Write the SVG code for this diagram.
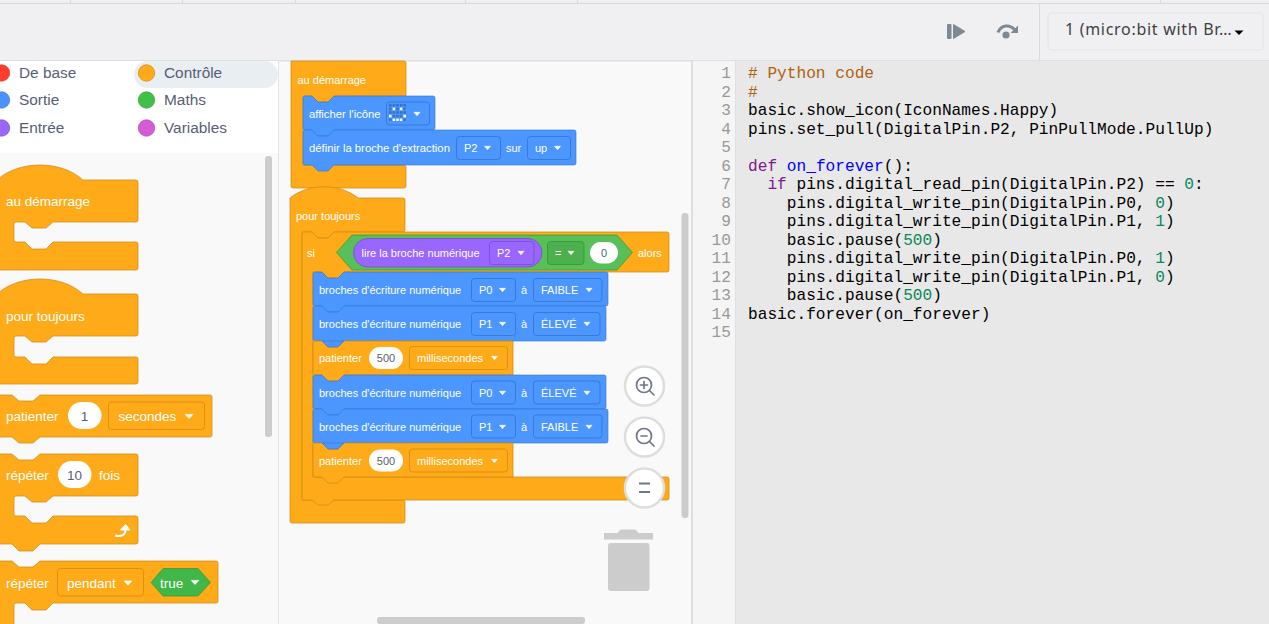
<svg xmlns="http://www.w3.org/2000/svg" width="1269" height="624" viewBox="0 0 1269 624">
<style>
text{font-family:"Liberation Sans",Arial,sans-serif}
.o{fill:#ffab19;stroke:#cf8b17;stroke-width:1;stroke-opacity:.75}
.b{fill:#4c97ff;stroke:#3373cc;stroke-width:1;stroke-opacity:.6}
.do{fill:#ffab19;stroke:#cf8b17;stroke-width:1;stroke-opacity:.8}
.db{fill:#4c97ff;stroke:#3373cc;stroke-width:1;stroke-opacity:.8}
.dg{fill:#4cb04c;stroke:#389438;stroke-width:1;stroke-opacity:.8}
.dp{fill:#9966ff;stroke:#774dcb;stroke-width:1;stroke-opacity:.8}
.t{fill:#fff;font-size:11px}
.tl{fill:#fff;font-size:11.3px}
.f{fill:#fff;font-size:13.5px}
.n{fill:#575e75;font-size:11px;text-anchor:middle}
.nf{fill:#575e75;font-size:13.5px;text-anchor:middle}
.cat{fill:#575e75;font-size:15.4px}
.code{font-family:"Liberation Mono",monospace;font-size:16.17px;fill:#000}
.ln{font-family:"Liberation Mono",monospace;font-size:16.17px;fill:#999;text-anchor:end}
.num{fill:#09885a}.kw{fill:#7f1a8f}.fn{fill:#0000ff}.cm{fill:#b0620f}
.btn{fill:#fff;stroke:#ddd;stroke-width:2.5}
.ic{fill:none;stroke:#6f7590;stroke-width:1.7;stroke-linecap:round}
.c{fill:#fff;stroke:#fff;stroke-width:.6;stroke-linejoin:round}
.sb{fill:#ccc}
</style>
<defs>
<path id="car" d="M-3-1.700H3L0 1.700Z"/>
<path id="carf" d="M-3.800-2.100H3.800L0 2.100Z"/>
<pattern id="led" width="3.600" height="3.600" patternUnits="userSpaceOnUse" x="389" y="104"><rect width="2.600" height="2.600" fill="#3373cc"/></pattern>
</defs>

<rect id="page" width="1269" height="624" fill="#f9f9f9"/>

<g id="topbar">
<rect width="1269" height="61" fill="#f0f0f3"/>
<rect y="3" width="1269" height="1" fill="#d9d9dc"/>
<path d="M70.500 0V3M182.500 0V3M295.500 0V3M465.500 0V3M577.500 0V3M1160.500 0V3M1039.500 4V61" stroke="#d9d9dc" fill="none"/>
<rect y="60" width="1269" height="1.500" fill="#dfdfe2"/>
</g>

<g id="toolbar-controls">
<rect x="947" y="24" width="4.500" height="15" rx="1" fill="#7d8a96"/>
<path d="M953.500 24.500L965 31.500L953.500 38.500Z" fill="#7d8a96" stroke="#7d8a96" stroke-linejoin="round"/>
<path d="M998 32.500C1001 24.500 1010 24 1015 30" fill="none" stroke="#7d8a96" stroke-width="3"/>
<path d="M1018 25.500V33H1010.500Z" fill="#7d8a96"/>
<circle cx="1006" cy="35" r="3.600" fill="#7d8a96"/>
</g>

<g id="device-select">
<rect x="1048" y="13" width="215" height="37" rx="3" fill="#f0f0f3" stroke="#e4e4e8"/>
<text x="1065" y="34.500" font-size="16" letter-spacing=".7" fill="#3f4045" style="font-family:'Noto Sans',sans-serif">1 (micro:bit with Br…</text>
<path d="M1234.500 30.500H1243.500L1239 35Z" fill="#000"/>
</g>

<g id="categories">
<rect y="61" width="278" height="92" fill="#fff"/>
<rect x="278" y="61" width="1" height="563" fill="#e3e3e3"/>
<rect x="134" y="61" width="144" height="27" rx="13.500" fill="#e9eef2"/>
<g id="cat-base"><circle cx="1.500" cy="73" r="8.200" fill="#ff3d2e" stroke="#e0402f" stroke-width=".8"/><text class="cat" x="19" y="78">De base</text></g>
<g id="cat-sortie"><circle cx="1.500" cy="100" r="8.200" fill="#4b92ff" stroke="#3f82e6" stroke-width=".8"/><text class="cat" x="19" y="105">Sortie</text></g>
<g id="cat-entree"><circle cx="1.500" cy="128" r="8.200" fill="#9966ff" stroke="#8455e0" stroke-width=".8"/><text class="cat" x="19" y="133">Entrée</text></g>
<g id="cat-controle"><circle cx="146.500" cy="73" r="8.200" fill="#ffab19" stroke="#d98f14" stroke-width=".8"/><text class="cat" x="164" y="78">Contrôle</text></g>
<g id="cat-maths"><circle cx="146.500" cy="100" r="8.200" fill="#40bf4a" stroke="#38a842" stroke-width=".8"/><text class="cat" x="164" y="105">Maths</text></g>
<g id="cat-variables"><circle cx="146.500" cy="128" r="8.200" fill="#d65cd6" stroke="#bd50bd" stroke-width=".8"/><text class="cat" x="164" y="133">Variables</text></g>
</g>

<g id="flyout">
<g id="fly-start">
<path class="o" d="M-3 180C19 160 61 160 83 180H136q2 0 2 2V220q0 2-2 2H53l-7 6H32l-7-6H16q-2 0-2 2V240q0 2 2 2H25l7 7H46l7-7H136q2 0 2 2V268q0 2-2 2H-5Z"/>
<text class="f" x="6" y="206">au démarrage</text>
</g>
<g id="fly-forever">
<path class="o" d="M-3 294C19 274 61 274 83 294H136q2 0 2 2V334q0 2-2 2H53l-7 6H32l-7-6H16q-2 0-2 2V355q0 2 2 2H25l7 7H46l7-7H136q2 0 2 2V382q0 2-2 2H-5Z"/>
<text class="f" x="6" y="321">pour toujours</text>
</g>
<g id="fly-pause">
<path class="o" d="M-5 395H12l7 6H33l7-6H210q2 0 2 2V435q0 2-2 2H40l-7 6H19l-7-6H-5Z"/>
<text class="f" x="6" y="421">patienter</text>
<rect x="68" y="402" width="33.500" height="27" rx="13.500" fill="#fff"/>
<text class="nf" x="84.500" y="421">1</text>
<rect class="do" x="108.500" y="402" width="96" height="27.500" rx="3"/>
<text class="f" x="118.500" y="421">secondes</text>
<use href="#carf" x="189" y="416.500" class="c"/>
</g>
<g id="fly-repeat">
<path class="o" d="M-5 454H12l7 6H33l7-6H136q2 0 2 2V494q0 2-2 2H53l-7 6H32l-7-6H16q-2 0-2 2V514q0 2 2 2H25l7 7H46l7-7H136q2 0 2 2V542q0 2-2 2H40l-7 7H19l-7-7H-5Z"/>
<text class="f" x="6" y="480">répéter</text>
<rect x="58" y="461" width="33.500" height="27" rx="13.500" fill="#fff"/>
<text class="nf" x="74.500" y="480">10</text>
<text class="f" x="99" y="480">fois</text>
<path d="M115 535.500C121 537 126 535 125.500 529" fill="none" stroke="#fff" stroke-width="2"/>
<path d="M120.500 530L125.500 524.500L130 530Z" fill="#fff" stroke="#fff" stroke-linejoin="round"/>
</g>
<g id="fly-while">
<path class="o" d="M-5 561H12l7 6H33l7-6H216q2 0 2 2V601q0 2-2 2H53l-7 7H32l-7-7H16q-2 0-2 2V630H-5Z"/>
<text class="f" x="6" y="588">répéter</text>
<rect class="do" x="57.500" y="568.500" width="86" height="27.500" rx="3"/>
<text class="f" x="67" y="588">pendant</text>
<use href="#carf" x="128" y="583" class="c"/>
<path d="M151 582.500L163 568.500H198L210.500 582.500L198 596H163Z" fill="#40b748" stroke="#389438" stroke-opacity=".7"/>
<text class="f" x="160" y="588">true</text>
<use href="#carf" x="195" y="582.500" class="c"/>
</g>
<rect id="fly-scroll" class="sb" x="265" y="156" width="7" height="281" rx="3"/>
</g>

<g id="workspace">
<g id="on-start">
<path class="o" d="M291 61H404q2 0 2 2V96H334l-6 6H318l-6-6H303V165H404q2 0 2 2V186q0 2-2 2H293q-2 0-2-2Z"/>
<text class="t" x="297.500" y="84">au démarrage</text>
<g id="show-icon">
<path class="b" d="M303 98q0-2 2-2h7l6 6h10l6-6H433q2 0 2 2V128q0 2-2 2H334l-6 6H318l-6-6H305q-2 0-2-2Z"/>
<text class="tl" x="309" y="118">afficher l'icône</text>
<rect class="db" x="386.500" y="102" width="43" height="23" rx="3"/>
<rect x="389" y="104" width="18" height="18" fill="url(#led)"/>
<path d="M392.600 107.600h2.600v2.600h-2.600zM399.800 107.600h2.600v2.600h-2.600zM389 114.800h2.600v2.600H389zM403.400 114.800h2.600v2.600h-2.600zM392.600 118.400h2.600v2.600h-2.600zM396.200 118.400h2.600v2.600h-2.600zM399.800 118.400h2.600v2.600h-2.600z" fill="#fff"/>
<use href="#car" x="417" y="114" class="c"/>
</g>
<g id="set-pull">
<path class="b" d="M303 132q0-2 2-2h7l6 6h10l6-6H574q2 0 2 2V163q0 2-2 2H334l-6 6H318l-6-6H305q-2 0-2-2Z"/>
<text class="tl" x="309" y="152">définir la broche d'extraction</text>
<rect class="db" x="456.500" y="136.500" width="44" height="23" rx="3"/>
<text class="t" x="464" y="152">P2</text>
<use href="#car" x="487.500" y="148" class="c"/>
<text class="t" x="506" y="152">sur</text>
<rect class="db" x="527.500" y="136.500" width="43" height="23" rx="3"/>
<text class="t" x="535" y="152">up</text>
<use href="#car" x="557.500" y="148" class="c"/>
</g>
</g>

<g id="forever">
<path class="o" d="M290 198C308 183 340 183 358 198H403q2 0 2 2V230q0 2-2 2H334l-6 6H318l-6-6H302V500H403q2 0 2 2V521q0 2-2 2H292q-2 0-2-2Z"/>
<text class="t" x="296" y="220">pour toujours</text>
<g id="if-block">
<path class="o" d="M302 234q0-2 2-2h8l6 6h10l6-6H667q2 0 2 2V270q0 2-2 2H344l-6 6H328l-6-6H313V477H667q2 0 2 2V498q0 2-2 2H334l-6 5H318l-6-5H304q-2 0-2-2Z"/>
<text class="t" x="307" y="257">si</text>
<path d="M336.500 252.500L352 235H617L632.500 252.500L617 270H352Z" fill="#59c059" stroke="#389438" stroke-opacity=".7"/>
<rect x="353.500" y="238.500" width="188.500" height="28.500" rx="14.250" fill="#9966ff" stroke="#774dcb" stroke-opacity=".8"/>
<text class="t" x="361.500" y="257">lire la broche numérique</text>
<rect class="dp" x="489.500" y="241.500" width="44.500" height="23" rx="3"/>
<text class="t" x="497" y="257">P2</text>
<use href="#car" x="521" y="253" class="c"/>
<rect class="dg" x="547.500" y="241.500" width="36.500" height="23" rx="3"/>
<text class="t" x="555" y="257">=</text>
<use href="#car" x="571" y="253" class="c"/>
<rect x="590" y="242" width="28" height="21.500" rx="10.700" fill="#fff"/>
<text class="n" x="604" y="257">0</text>
<text class="t" x="638" y="257">alors</text>
</g>
<g id="write-p0-low">
<path class="b" d="M313 274q0-2 2-2h7l6 6h10l6-6H606q2 0 2 2V304q0 2-2 2H344l-6 6H328l-6-6H315q-2 0-2-2Z"/>
<text class="t" x="319" y="294">broches d'écriture numérique</text>
<rect class="db" x="471.500" y="278.500" width="44" height="23" rx="3"/>
<text class="t" x="479" y="294">P0</text>
<use href="#car" x="502.500" y="290" class="c"/>
<text class="t" x="521" y="294">à</text>
<rect class="db" x="533.500" y="278.500" width="68.500" height="23" rx="3"/>
<text class="t" x="541" y="294">FAIBLE</text>
<use href="#car" x="589" y="290" class="c"/>
</g>
<g id="write-p1-high">
<path class="b" d="M313 308q0-2 2-2h7l6 6h10l6-6H604q2 0 2 2V339q0 2-2 2H344l-6 6H328l-6-6H315q-2 0-2-2Z"/>
<text class="t" x="319" y="328">broches d'écriture numérique</text>
<rect class="db" x="471.500" y="312.500" width="44" height="23" rx="3"/>
<text class="t" x="479" y="328">P1</text>
<use href="#car" x="502.500" y="324" class="c"/>
<text class="t" x="521" y="328">à</text>
<rect class="db" x="533.500" y="312.500" width="66.500" height="23" rx="3"/>
<text class="t" x="541" y="328">ÉLEVÉ</text>
<use href="#car" x="587" y="324" class="c"/>
</g>
<g id="pause-1">
<path class="o" d="M313 343q0-2 2-2h7l6 6h10l6-6H513V375H344l-6 6H328l-6-6H315q-2 0-2-2Z"/>
<path class="b" d="M322 341l6 6h10l6-6Z" stroke="none"/>
<text class="t" x="319" y="362">patienter</text>
<rect x="369" y="347" width="34" height="22" rx="11" fill="#fff"/>
<text class="n" x="386" y="362">500</text>
<rect class="do" x="409.500" y="346.500" width="98" height="23" rx="3"/>
<text class="t" x="417" y="362">millisecondes</text>
<use href="#car" x="494.500" y="358" class="c"/>
</g>
<g id="write-p0-high">
<path class="b" d="M313 377q0-2 2-2h7l6 6h10l6-6H604q2 0 2 2V407q0 2-2 2H344l-6 6H328l-6-6H315q-2 0-2-2Z"/>
<text class="t" x="319" y="397">broches d'écriture numérique</text>
<rect class="db" x="471.500" y="381" width="44" height="23" rx="3"/>
<text class="t" x="479" y="397">P0</text>
<use href="#car" x="502.500" y="393" class="c"/>
<text class="t" x="521" y="397">à</text>
<rect class="db" x="533.500" y="381" width="66.500" height="23" rx="3"/>
<text class="t" x="541" y="397">ÉLEVÉ</text>
<use href="#car" x="587" y="393" class="c"/>
</g>
<g id="write-p1-low">
<path class="b" d="M313 411q0-2 2-2h7l6 6h10l6-6H606q2 0 2 2V441q0 2-2 2H344l-6 6H328l-6-6H315q-2 0-2-2Z"/>
<text class="t" x="319" y="431">broches d'écriture numérique</text>
<rect class="db" x="471.500" y="415" width="44" height="23" rx="3"/>
<text class="t" x="479" y="431">P1</text>
<use href="#car" x="502.500" y="427" class="c"/>
<text class="t" x="521" y="431">à</text>
<rect class="db" x="533.500" y="415" width="68.500" height="23" rx="3"/>
<text class="t" x="541" y="431">FAIBLE</text>
<use href="#car" x="589" y="427" class="c"/>
</g>
<g id="pause-2">
<path class="o" d="M313 445q0-2 2-2h7l6 6h10l6-6H513V477H344l-6 6H328l-6-6H315q-2 0-2-2Z"/>
<path class="b" d="M322 443l6 6h10l6-6Z" stroke="none"/>
<text class="t" x="319" y="465">patienter</text>
<rect x="369" y="449.500" width="34" height="22" rx="11" fill="#fff"/>
<text class="n" x="386" y="465">500</text>
<rect class="do" x="409.500" y="449" width="98" height="23" rx="3"/>
<text class="t" x="417" y="465">millisecondes</text>
<use href="#car" x="494.500" y="461" class="c"/>
</g>
</g>

<g id="zoom-in">
<circle class="btn" cx="644.500" cy="386" r="19.500"/>
<circle class="ic" cx="644" cy="385" r="7.500"/>
<path class="ic" d="M650 391l4 4M640.500 385h7M644 381.500v7"/>
</g>
<g id="zoom-out">
<circle class="btn" cx="644.500" cy="437" r="19.500"/>
<circle class="ic" cx="644" cy="436" r="7.500"/>
<path class="ic" d="M650 442l4 4M641 436h6"/>
</g>
<g id="zoom-reset">
<circle class="btn" cx="644.500" cy="488" r="19.500"/>
<path d="M639 483.500h11M639 492h11" fill="none" stroke="#6f7590" stroke-width="2.200"/>
</g>
<g id="trash">
<path d="M604 533H618q1-3.500 4-3.500H634q3 0 4 3.500H653V539.500H604Z" fill="#ccc"/>
<rect x="608" y="543" width="41.500" height="48" rx="3" fill="#ccc"/>
</g>
<rect id="ws-vscroll" class="sb" x="681.500" y="213" width="7" height="305" rx="3"/>
<rect id="ws-hscroll" class="sb" x="377" y="617" width="208" height="7" rx="3"/>
</g>

<g id="editor">
<rect x="691" y="61" width="578" height="563" fill="#e8e8e8"/>
<rect x="691" y="61" width="2" height="563" fill="#dedede"/>
<path d="M693 61H733q2 0 2 2V624H693Z" fill="#f5f5f5"/>
<rect x="735" y="61" width="1" height="563" fill="#e0e0e0"/>
<g id="line-numbers">
<text class="ln" x="731" y="78">1</text><text class="ln" x="731" y="96.500">2</text><text class="ln" x="731" y="115">3</text><text class="ln" x="731" y="133.500">4</text><text class="ln" x="731" y="152">5</text><text class="ln" x="731" y="170.500">6</text><text class="ln" x="731" y="189">7</text><text class="ln" x="731" y="207.500">8</text><text class="ln" x="731" y="226">9</text><text class="ln" x="731" y="244.500">10</text><text class="ln" x="731" y="263">11</text><text class="ln" x="731" y="281.500">12</text><text class="ln" x="731" y="300">13</text><text class="ln" x="731" y="318.500">14</text><text class="ln" x="731" y="337">15</text>
</g>
<g id="code">
<text class="code cm" x="748" y="78"># Python code</text>
<text class="code cm" x="748" y="96.500">#</text>
<text class="code" x="748" y="115">basic.show_icon(IconNames.Happy)</text>
<text class="code" x="748" y="133.500">pins.set_pull(DigitalPin.P2, PinPullMode.PullUp)</text>
<text class="code" x="748" y="170.500"><tspan class="kw">def</tspan> <tspan class="fn">on_forever</tspan>():</text>
<text class="code" x="767.400" y="189"><tspan class="kw">if</tspan> pins.digital_read_pin(DigitalPin.P2) == <tspan class="num">0</tspan>:</text>
<text class="code" x="786.800" y="207.500">pins.digital_write_pin(DigitalPin.P0, <tspan class="num">0</tspan>)</text>
<text class="code" x="786.800" y="226">pins.digital_write_pin(DigitalPin.P1, <tspan class="num">1</tspan>)</text>
<text class="code" x="786.800" y="244.500">basic.pause(<tspan class="num">500</tspan>)</text>
<text class="code" x="786.800" y="263">pins.digital_write_pin(DigitalPin.P0, <tspan class="num">1</tspan>)</text>
<text class="code" x="786.800" y="281.500">pins.digital_write_pin(DigitalPin.P1, <tspan class="num">0</tspan>)</text>
<text class="code" x="786.800" y="300">basic.pause(<tspan class="num">500</tspan>)</text>
<text class="code" x="748" y="318.500">basic.forever(on_forever)</text>
</g>
</g>
</svg>
